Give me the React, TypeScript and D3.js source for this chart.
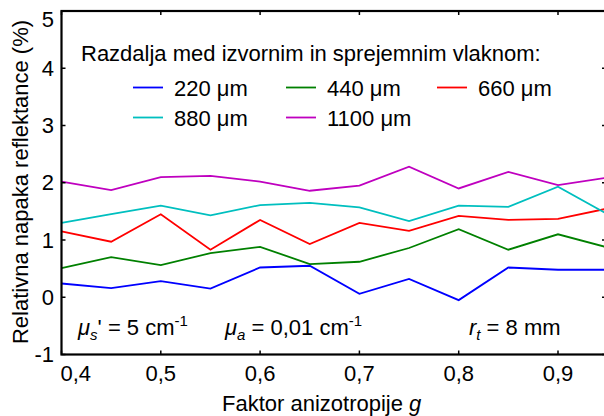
import React from "react";
import * as d3 from "d3";

const gValues = [0.4, 0.45, 0.5, 0.55, 0.6, 0.65, 0.7, 0.75, 0.8, 0.85, 0.9, 0.95];
const s220 = [0.24, 0.16, 0.28, 0.15, 0.52, 0.55, 0.06, 0.32, -0.05, 0.52, 0.48, 0.48];
const s440 = [0.51, 0.7, 0.56, 0.77, 0.88, 0.58, 0.62, 0.86, 1.19, 0.83, 1.1, 0.87];
const s660 = [1.15, 0.97, 1.45, 0.83, 1.35, 0.93, 1.3, 1.16, 1.42, 1.35, 1.37, 1.55];
const s880 = [1.3, 1.45, 1.6, 1.43, 1.61, 1.65, 1.57, 1.33, 1.6, 1.58, 1.93, 1.45];
const s1100 = [2.02, 1.87, 2.1, 2.12, 2.02, 1.86, 1.95, 2.28, 1.9, 2.19, 1.96, 2.09];

const seriesNames = ["220 μm", "440 μm", "660 μm", "880 μm", "1100 μm"];
const seriesColors = ["#0000ff", "#008000", "#ff0000", "#00bfbf", "#bf00bf"];
const seriesData = [s220, s440, s660, s880, s1100];

const xTicks = [0.4, 0.5, 0.6, 0.7, 0.8, 0.9];
const xTickLabels = ["0,4", "0,5", "0,6", "0,7", "0,8", "0,9"];
const yTicks = [-1, 0, 1, 2, 3, 4, 5];

const W = 604;
const H = 416;
const left = 61.5;
const top = 11;
const bottom = 354.5;
const right = 606;
const FONT = "'Liberation Sans', Arial, sans-serif";

export default function App() {
  const x = d3.scaleLinear().domain([0.4, 0.95]).range([left, left + 5.5 * 99.3]);
  const y = d3.scaleLinear().domain([-1, 5]).range([bottom, top]);
  const line = d3
    .line<number>()
    .x((_, i) => x(gValues[i]))
    .y((d) => y(d));

  const legendCols = [133, 286, 437];
  const legendRows = [87.5, 117.5];

  return (
    <svg
      width={W}
      height={H}
      style={{ position: "absolute", left: 0, top: 0, background: "#fff" }}
      fontFamily={FONT}
    >
      <defs>
        <clipPath id="plotclip">
          <rect x={left} y={top} width={right - left} height={bottom - top} />
        </clipPath>
      </defs>
      <rect x={0} y={0} width={W} height={H} fill="#fff" />

      {/* series */}
      <g clipPath="url(#plotclip)">
        {seriesData.map((s, i) => (
          <path key={i} d={line(s) || ""} fill="none" stroke={seriesColors[i]} strokeWidth={1.8} />
        ))}
      </g>

      {/* frame */}
      <rect x={left} y={top} width={right - left} height={bottom - top} fill="none" stroke="#000" strokeWidth={2.2} />

      {/* x ticks */}
      {xTicks.map((t, i) => (
        <g key={"xt" + i}>
          <line x1={x(t)} x2={x(t)} y1={bottom} y2={bottom - 4} stroke="#000" strokeWidth={1.5} />
          <line x1={x(t)} x2={x(t)} y1={top} y2={top + 4} stroke="#000" strokeWidth={1.5} />
          <text
            x={i === 0 ? x(t) - 1 : x(t)}
            y={381}
            fontSize={22}
            textAnchor={i === 0 ? "start" : "middle"}
          >
            {xTickLabels[i]}
          </text>
        </g>
      ))}

      {/* y ticks */}
      {yTicks.map((t, i) => (
        <g key={"yt" + i}>
          <line x1={left} x2={left + 4} y1={y(t)} y2={y(t)} stroke="#000" strokeWidth={1.5} />
          <line x1={right} x2={right - 4} y1={y(t)} y2={y(t)} stroke="#000" strokeWidth={1.5} />
          <text
            x={54}
            y={t === 5 ? y(t) + 16 : y(t) + 7.5}
            fontSize={22}
            textAnchor="end"
          >
            {t === -1 ? "-1" : String(t)}
          </text>
        </g>
      ))}

      {/* axis titles */}
      <text x={222} y={411} fontSize={22}>
        Faktor anizotropije <tspan fontStyle="italic">g</tspan>
      </text>
      <text
        transform={`translate(28,182) rotate(-90)`}
        fontSize={22}
        textAnchor="middle"
      >
        Relativna napaka reflektance (%)
      </text>

      {/* legend */}
      <text x={81} y={61} fontSize={22}>
        Razdalja med izvornim in sprejemnim vlaknom:
      </text>
      {seriesNames.map((name, i) => {
        const cx = legendCols[i % 3];
        const cy = legendRows[Math.floor(i / 3)];
        return (
          <g key={"lg" + i}>
            <line x1={cx} x2={cx + 30} y1={cy} y2={cy} stroke={seriesColors[i]} strokeWidth={1.8} />
            <text x={cx + 41} y={cy + 8.5} fontSize={22}>
              {name}
            </text>
          </g>
        );
      })}

      {/* annotations */}
      <text x={78} y={335} fontSize={22}>
        <tspan fontStyle="italic">μ</tspan>
        <tspan fontStyle="italic" fontSize={15} dy={5}>s</tspan>
        <tspan dy={-5}>' = 5 cm</tspan>
        <tspan fontSize={15} dy={-9}>-1</tspan>
      </text>
      <text x={225} y={335} fontSize={22}>
        <tspan fontStyle="italic">μ</tspan>
        <tspan fontStyle="italic" fontSize={15} dy={5}>a</tspan>
        <tspan dy={-5}> = 0,01 cm</tspan>
        <tspan fontSize={15} dy={-9}>-1</tspan>
      </text>
      <text x={469} y={335} fontSize={22}>
        <tspan fontStyle="italic">r</tspan>
        <tspan fontStyle="italic" fontSize={15} dy={5}>t</tspan>
        <tspan dy={-5}> = 8 mm</tspan>
      </text>
    </svg>
  );
}
